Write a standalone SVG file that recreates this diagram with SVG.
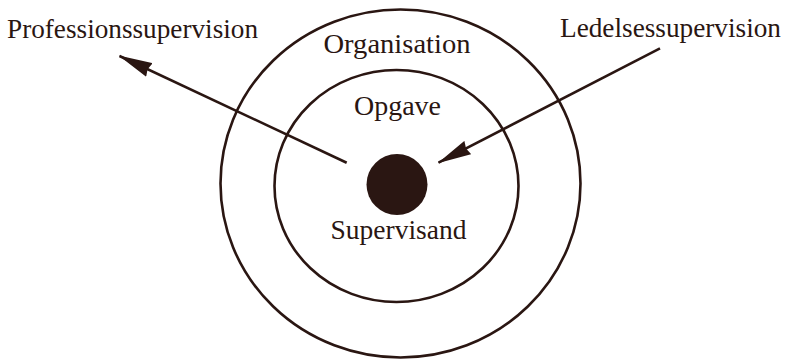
<svg xmlns="http://www.w3.org/2000/svg" width="785" height="361" viewBox="0 0 785 361">
<style>
.ring{fill:none;stroke:#2a1612;stroke-width:2.6}
.lbl{font-family:"Liberation Serif","Times New Roman",serif;font-size:27px;fill:#2a1612}
.con{stroke:#2a1612;stroke-width:2.6;fill:none}
</style>
<defs>
<marker id="ah" viewBox="0 0 34 16" refX="33" refY="8" markerWidth="34" markerHeight="16" markerUnits="userSpaceOnUse" orient="auto">
<path d="M0,0.5 L34,8 L0,15.5 L2,8 z" fill="#2a1612"/>
</marker>
</defs>
<rect width="785" height="361" fill="#ffffff"/>
<g id="organisation">
<ellipse class="ring" cx="400.5" cy="183.5" rx="180" ry="174"/>
<text class="lbl" x="397" y="53" text-anchor="middle" textLength="147" lengthAdjust="spacingAndGlyphs">Organisation</text>
</g>
<g id="opgave">
<ellipse class="ring" cx="396.5" cy="186" rx="122" ry="116"/>
<text class="lbl" x="397.5" y="115" text-anchor="middle" textLength="87" lengthAdjust="spacingAndGlyphs">Opgave</text>
</g>
<g id="supervisand">
<circle cx="397" cy="184.5" r="30.5" fill="#2a1612"/>
<text class="lbl" x="398.5" y="239" text-anchor="middle" textLength="136" lengthAdjust="spacingAndGlyphs">Supervisand</text>
</g>
<g id="professionssupervision">
<text class="lbl" x="7" y="38" textLength="251" lengthAdjust="spacingAndGlyphs">Professionssupervision</text>
</g>
<g id="ledelsessupervision">
<text class="lbl" x="560" y="37" textLength="221" lengthAdjust="spacingAndGlyphs">Ledelsessupervision</text>
</g>
<g id="connectors">
<line class="con" x1="346.7" y1="162.7" x2="119.5" y2="56" marker-end="url(#ah)"/>
<line class="con" x1="660" y1="48.3" x2="438.5" y2="162.7" marker-end="url(#ah)"/>
</g>
</svg>
